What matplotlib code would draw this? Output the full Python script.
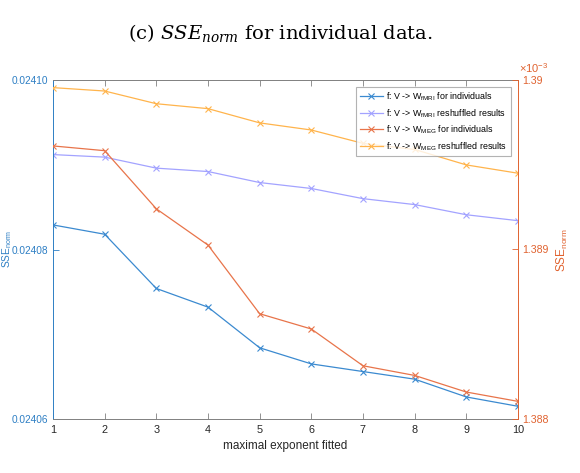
import matplotlib
matplotlib.use("Agg")
import matplotlib.pyplot as plt
from matplotlib.ticker import FuncFormatter, FixedLocator
from matplotlib.lines import Line2D

plt.rcParams['font.family'] = ['Liberation Sans', 'DejaVu Sans']
plt.rcParams['mathtext.fontset'] = 'custom'
plt.rcParams['mathtext.rm'] = 'Liberation Sans'
plt.rcParams['mathtext.it'] = 'DejaVu Serif:italic'

x = [1, 2, 3, 4, 5, 6, 7, 8, 9, 10]
fmri_ind = [0.0240829, 0.0240818, 0.0240754, 0.0240732, 0.0240684,
            0.0240665, 0.0240656, 0.0240647, 0.0240626, 0.0240615]
fmri_resh = [0.0240912, 0.0240909, 0.0240896, 0.0240892, 0.0240879,
             0.0240872, 0.0240860, 0.0240853, 0.0240841, 0.0240834]
meg_ind = [1.389611e-3, 1.389583e-3, 1.389240e-3, 1.389026e-3, 1.388621e-3,
           1.388531e-3, 1.388314e-3, 1.388257e-3, 1.388159e-3, 1.388104e-3]
meg_resh = [1.389955e-3, 1.389935e-3, 1.389860e-3, 1.389831e-3, 1.389747e-3,
            1.389705e-3, 1.389626e-3, 1.389590e-3, 1.389499e-3, 1.389450e-3]

left_ticks = [0.02406, 0.02408, 0.02410]
right_ticks = [1.388e-3, 1.389e-3, 1.390e-3]
labels = [r"f: V -> W$_{\mathrm{fMRI}}$ for individuals",
          r"f: V -> W$_{\mathrm{fMRI}}$ reshuffled results",
          r"f: V -> W$_{\mathrm{MEG}}$ for individuals",
          r"f: V -> W$_{\mathrm{MEG}}$ reshuffled results"]

c_blue = '#3B8AD0'
c_lav = '#A3A3FF'
c_orange = '#E8744A'
c_yellow = '#FFB44C'
c_leftax = '#2E7FC4'
c_rightax = '#E0622F'
c_dark = '#262626'
c_grey = '#808080'

W, H = 580, 473
fig = plt.figure(figsize=(W / 100, H / 100), dpi=100)
ax = fig.add_axes([53 / W, 1 - 419 / H, (518 - 53) / W, (419 - 80) / H])
ax2 = ax.twinx()

lw = 0.9
ms = 4
ax.plot(x, fmri_ind, color=c_blue, lw=lw, marker='x', ms=ms, mew=0.8)
ax.plot(x, fmri_resh, color=c_lav, lw=lw, marker='x', ms=ms, mew=0.8)
ax2.plot(x, meg_ind, color=c_orange, lw=lw, marker='x', ms=ms, mew=0.8)
ax2.plot(x, meg_resh, color=c_yellow, lw=lw, marker='x', ms=ms, mew=0.8)

ax.set_xlim(1, 10)
ax.set_ylim(left_ticks[0], left_ticks[-1])
ax2.set_ylim(right_ticks[0], right_ticks[-1])

ax.set_xticks(x)
ax.set_xticklabels([str(v) for v in x])
ax.yaxis.set_major_locator(FixedLocator(left_ticks))
ax.yaxis.set_major_formatter(FuncFormatter(lambda v, p: f"{v:.5f}"))
ax2.yaxis.set_major_locator(FixedLocator(right_ticks))
ax2.yaxis.set_major_formatter(FuncFormatter(lambda v, p: f"{v*1e3:g}"))

ax.tick_params(axis='x', direction='in', top=True, length=4, width=0.6,
               labelsize=7.8, colors=c_grey, labelcolor=c_dark, pad=4)
ax.tick_params(axis='y', direction='in', length=4, width=0.6,
               labelsize=7.3, colors=c_leftax, pad=3.5)
ax2.tick_params(axis='y', direction='in', length=4, width=0.6,
                labelsize=7.6, colors=c_rightax, pad=3)

for s in ['top', 'bottom']:
    ax.spines[s].set_color(c_grey)
    ax.spines[s].set_linewidth(0.7)
ax.spines['left'].set_color(c_leftax)
ax.spines['left'].set_linewidth(0.7)
ax.spines['right'].set_visible(False)
for s in ['top', 'bottom', 'left']:
    ax2.spines[s].set_visible(False)
ax2.spines['right'].set_color(c_rightax)
ax2.spines['right'].set_linewidth(0.7)

ax.set_xlabel("maximal exponent fitted", fontsize=8.5, color=c_dark, labelpad=4)
fig.text(0.2 / W, 1 - 249 / H, r"SSE$_{\mathrm{norm}}$", rotation=90, color=c_leftax,
         fontsize=7.3, ha='left', va='center')
fig.text(562 / W, 1 - 250 / H, r"SSE$_{\mathrm{norm}}$", rotation=90, color=c_rightax,
         fontsize=8.5, ha='center', va='center')
fig.text(519 / W, 1 - 68 / H, r"$\times\mathrm{10}^{\mathrm{-3}}$", color=c_rightax,
         fontsize=8, ha='left', va='center')

handles = [Line2D([], [], color=c, lw=lw, marker='x', ms=ms, mew=0.8)
           for c in [c_blue, c_lav, c_orange, c_yellow]]
leg = ax2.legend(handles, labels, loc='upper right', fontsize=6.4,
                 bbox_to_anchor=(1 - 7 / 465, 1 - 7 / 339), borderaxespad=0,
                 frameon=True, fancybox=False, handlelength=2.6,
                 handletextpad=0.4, labelspacing=0.45, borderpad=0.4)
leg.get_frame().set_edgecolor('#a0a0a0')
leg.get_frame().set_linewidth(0.8)

fig.text(0.5 * (121 + 440) / W, 1 - 33 / H,
         r"(c) $SSE_{norm}$ for individual data.",
         fontsize=14, family='DejaVu Serif', ha='center', va='center')

fig.savefig("out.png", dpi=100)
